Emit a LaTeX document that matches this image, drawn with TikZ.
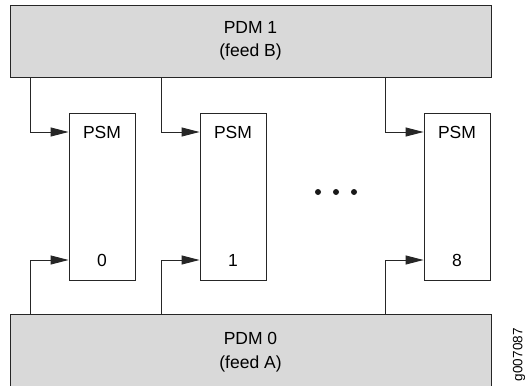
\documentclass[tikz,border=0pt]{standalone}
\usepackage{fontspec}
\setmainfont{Liberation Sans}
\usetikzlibrary{arrows.meta,calc}
\begin{document}
\begin{tikzpicture}[x=1pt,y=-1pt,
  line width=0.9pt,
  pdmbox/.style={draw=black!85, fill=black!15, inner sep=0pt, align=center,
     font=\fontsize{17.5}{23}\selectfont},
  psmbox/.style={draw=black!85, fill=white, minimum width=66pt, minimum height=167pt, inner sep=0pt},
  lbl/.style={font=\fontsize{17.5}{21}\selectfont, inner sep=0pt},
  arr/.style={draw=black!85, -{Triangle[length=18pt,width=9pt]}},
  ]
\useasboundingbox (0,0) rectangle (526,385);
% PDM boxes
\node[pdmbox, minimum width=481pt, minimum height=72pt] (pdm1) at (250.5,41) {PDM 1\\(feed B)};
\node[pdmbox, minimum width=481pt, minimum height=76pt] (pdm0) at (250.5,352) {PDM 0\\[1pt](feed A)};
% PSM boxes
\node[psmbox] (psm0) at (102,196.5) {};
\node[psmbox] (psm1) at (233,196.5) {};
\node[psmbox] (psm8) at (457,196.5) {};
\node[lbl] (t0) at (102,132) {PSM};
\node[lbl] (t1) at (233,132) {PSM};
\node[lbl] (t8) at (457,132) {PSM};
\node[lbl] (n0) at (102,260) {0};
\node[lbl] (n1) at (233,260) {1};
\node[lbl] (n8) at (457,260) {8};
% feed columns
\coordinate (c0) at (30,0);
\coordinate (c1) at (161,0);
\coordinate (c8) at (385,0);
% connectors from PDM 1
\draw[arr] (pdm1.south -| c0) |- (psm0.west |- t0);
\draw[arr] (pdm1.south -| c1) |- (psm1.west |- t1);
\draw[arr] (pdm1.south -| c8) |- (psm8.west |- t8);
% connectors from PDM 0
\draw[arr] (pdm0.north -| c0) |- (psm0.west |- n0);
\draw[arr] (pdm0.north -| c1) |- (psm1.west |- n1);
\draw[arr] (pdm0.north -| c8) |- (psm8.west |- n8);
% dots
\fill[black!90] (318,192) circle (3pt) (336,192) circle (3pt) (354,192) circle (3pt);
% figure id
\node[rotate=90, anchor=east, inner sep=0pt, font=\fontsize{13.5}{14}\selectfont] (fid) at (519,328) {g007087};
\end{tikzpicture}
\end{document}
